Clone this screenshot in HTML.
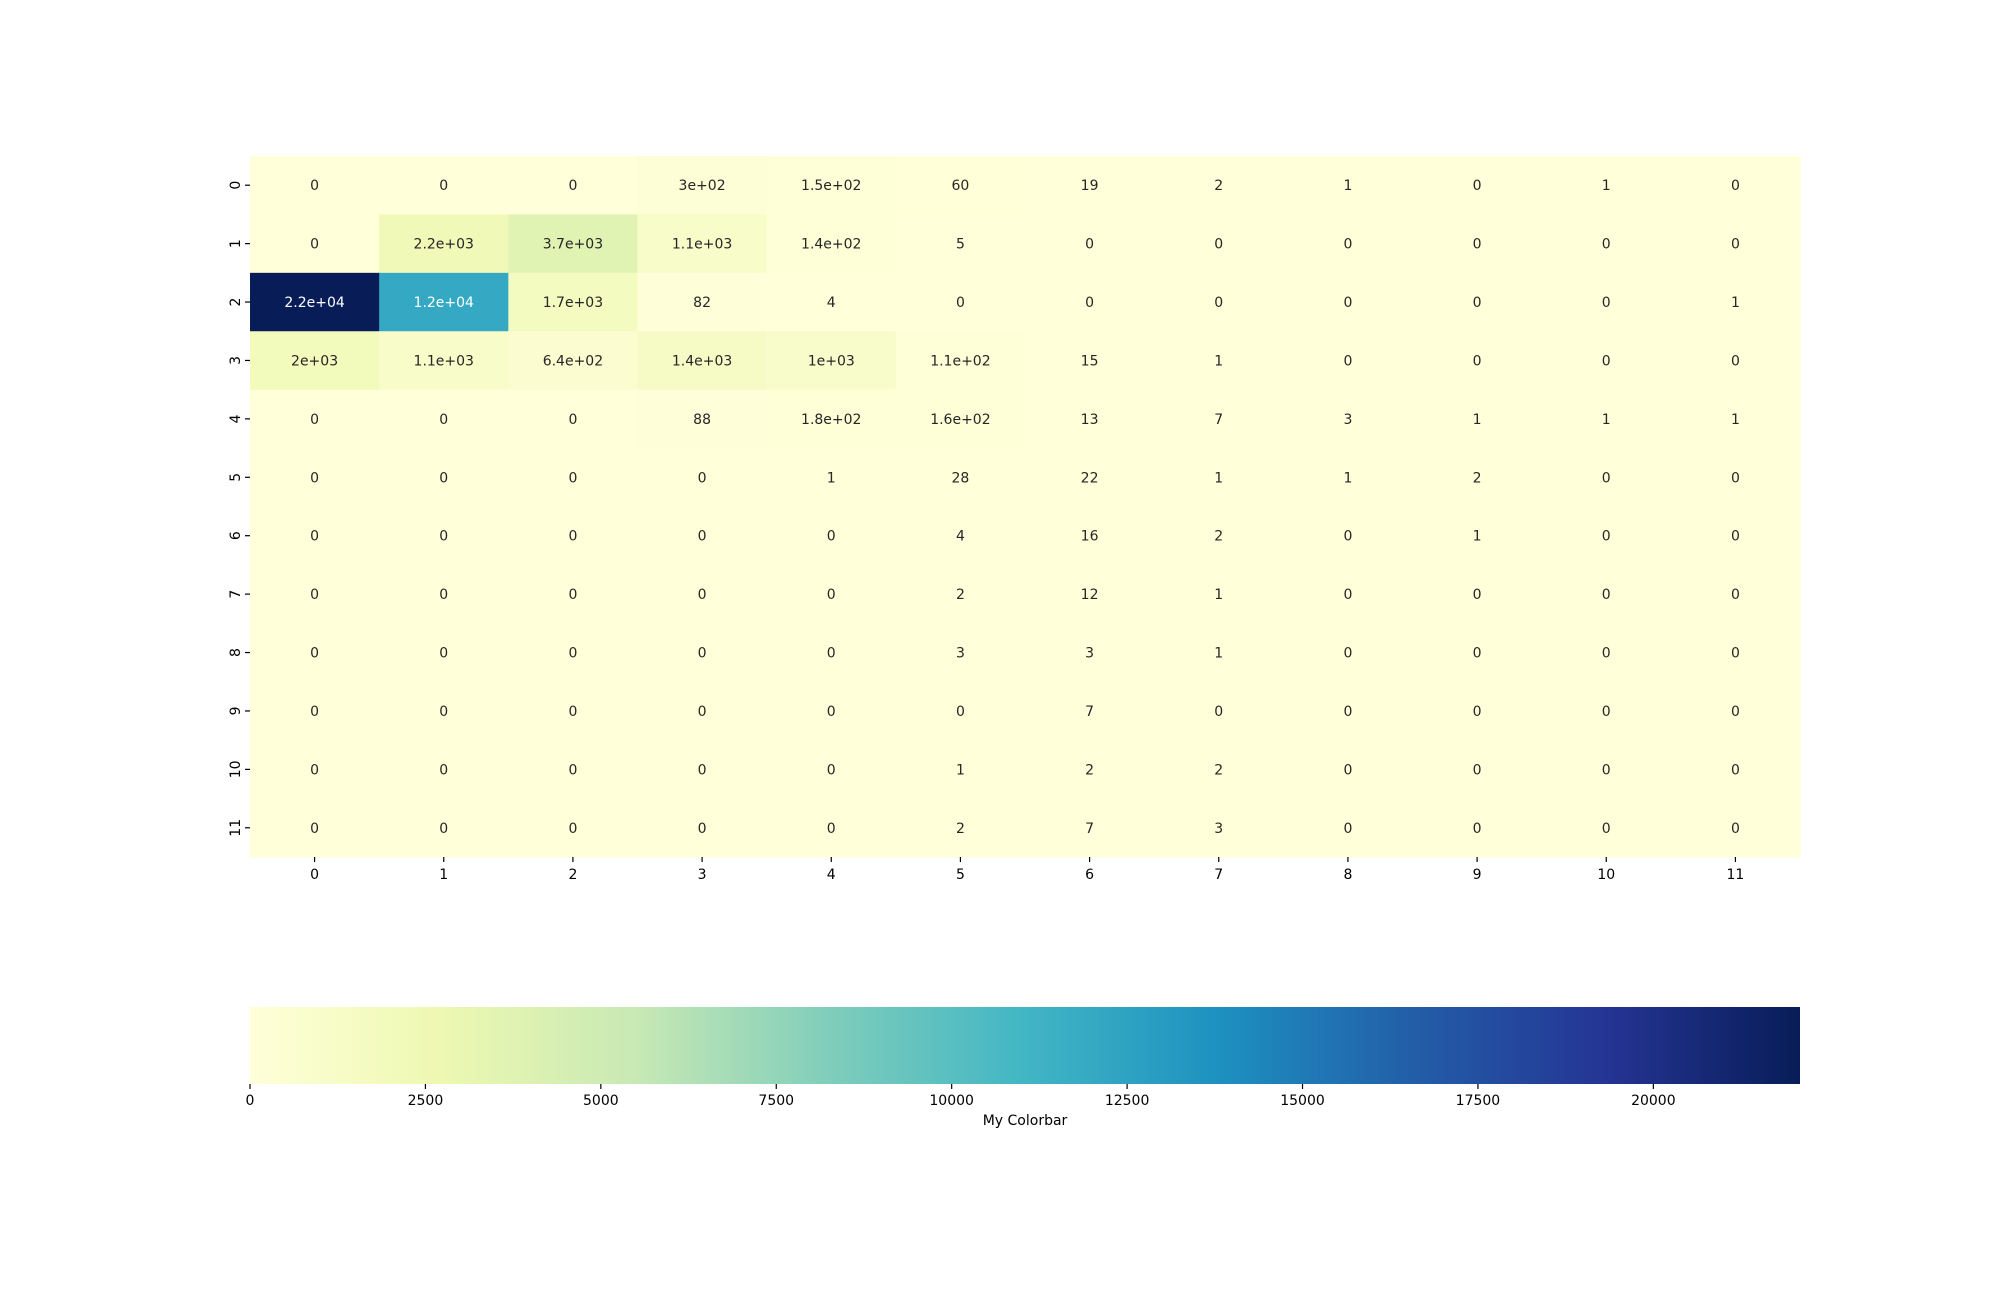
<!DOCTYPE html>
<html><head><meta charset="utf-8"><style>
html,body{margin:0;padding:0;background:#fff;}
svg{display:block;font-family:"DejaVu Sans","Liberation Sans",sans-serif;}
</style></head><body>
<svg id="chart" width="2000" height="1300" viewBox="0 0 2000 1300">
<defs><linearGradient id="cbgrad" x1="0" x2="1" y1="0" y2="0">
<stop offset="0" stop-color="#ffffd9"/><stop offset="0.125" stop-color="#edf8b1"/><stop offset="0.25" stop-color="#c7e9b4"/><stop offset="0.375" stop-color="#7fcdbb"/><stop offset="0.5" stop-color="#41b6c4"/><stop offset="0.625" stop-color="#1d91c0"/><stop offset="0.75" stop-color="#225ea8"/><stop offset="0.875" stop-color="#253494"/><stop offset="1" stop-color="#081d58"/>
</linearGradient></defs>
<g id="cells"></g>
<g id="axes"></g>
<rect x="250" y="1007" width="1550" height="77" fill="url(#cbgrad)"/>
<g id="cbticks"></g>
<text x="1025" y="1125" font-size="14" text-anchor="middle" fill="#000">My Colorbar</text>
</svg>
<script>
const rowLabels = ['0','1','2','3','4','5','6','7','8','9','10','11'];
const colLabels = ['0','1','2','3','4','5','6','7','8','9','10','11'];
const values = [
 [0,0,0,300,150,60,19,2,1,0,1,0],
 [0,2200,3700,1100,140,5,0,0,0,0,0,0],
 [22090,12000,1700,82,4,0,0,0,0,0,0,1],
 [2000,1100,640,1400,1000,110,15,1,0,0,0,0],
 [0,0,0,88,180,160,13,7,3,1,1,1],
 [0,0,0,0,1,28,22,1,1,2,0,0],
 [0,0,0,0,0,4,16,2,0,1,0,0],
 [0,0,0,0,0,2,12,1,0,0,0,0],
 [0,0,0,0,0,3,3,1,0,0,0,0],
 [0,0,0,0,0,0,7,0,0,0,0,0],
 [0,0,0,0,0,1,2,2,0,0,0,0],
 [0,0,0,0,0,2,7,3,0,0,0,0]
];
const annotations = [
 ['0','0','0','3e+02','1.5e+02','60','19','2','1','0','1','0'],
 ['0','2.2e+03','3.7e+03','1.1e+03','1.4e+02','5','0','0','0','0','0','0'],
 ['2.2e+04','1.2e+04','1.7e+03','82','4','0','0','0','0','0','0','1'],
 ['2e+03','1.1e+03','6.4e+02','1.4e+03','1e+03','1.1e+02','15','1','0','0','0','0'],
 ['0','0','0','88','1.8e+02','1.6e+02','13','7','3','1','1','1'],
 ['0','0','0','0','1','28','22','1','1','2','0','0'],
 ['0','0','0','0','0','4','16','2','0','1','0','0'],
 ['0','0','0','0','0','2','12','1','0','0','0','0'],
 ['0','0','0','0','0','3','3','1','0','0','0','0'],
 ['0','0','0','0','0','0','7','0','0','0','0','0'],
 ['0','0','0','0','0','1','2','2','0','0','0','0'],
 ['0','0','0','0','0','2','7','3','0','0','0','0']
];
const cbTicks = [0,2500,5000,7500,10000,12500,15000,17500,20000];
const vmin = 0, vmax = 22090;

const NS='http://www.w3.org/2000/svg';
const X0=250,X1=1800,Y0=156,Y1=857;
const cw=(X1-X0)/colLabels.length, ch=(Y1-Y0)/rowLabels.length;
const xs=i=>X0+i*cw, ys=j=>Y0+j*ch;
const cbx=v=>X0+(v-vmin)/(vmax-vmin)*(X1-X0);
const stops=['#ffffd9','#edf8b1','#c7e9b4','#7fcdbb','#41b6c4','#1d91c0','#225ea8','#253494','#081d58'].map(h=>[parseInt(h.slice(1,3),16),parseInt(h.slice(3,5),16),parseInt(h.slice(5,7),16)]);
function color(v){let t=Math.max(0,Math.min(1,(v-vmin)/(vmax-vmin)))*(stops.length-1);let i=Math.min(Math.floor(t),stops.length-2),f=t-i;const c=stops[i].map((a,k)=>Math.round(a+(stops[i+1][k]-a)*f));return c;}
function mk(tag,attrs,parent){const e=document.createElementNS(NS,tag);for(const k in attrs)e.setAttribute(k,attrs[k]);parent.appendChild(e);return e;}
const cells=document.getElementById('cells'),axes=document.getElementById('axes'),cbt=document.getElementById('cbticks');
values.forEach((row,j)=>row.forEach((v,i)=>{
  const c=color(v);
  const r=mk('rect',{x:xs(i),y:ys(j),width:cw+0.6,height:ch+0.6,fill:`rgb(${c[0]},${c[1]},${c[2]})`},cells);
  
  
  const lum=(0.299*c[0]+0.587*c[1]+0.114*c[2]);
  const t=mk('text',{x:xs(i)+cw/2,y:ys(j)+ch/2+5,'font-size':14,'text-anchor':'middle',fill:lum<140?'#ffffff':'#262626'},cells);
  t.textContent=annotations[j][i];
  
  
}));
colLabels.forEach((l,i)=>{
  const x=xs(i)+cw/2;
  const tk=mk('line',{x1:x,x2:x,y1:Y1,y2:Y1+5,stroke:'#000','stroke-width':1.2},axes);
  
  
  const t=mk('text',{x:x,y:Y1+22,'font-size':14,'text-anchor':'middle',fill:'#000'},axes);
  t.textContent=l;
  
  
});
rowLabels.forEach((l,j)=>{
  const y=ys(j)+ch/2;
  const tk=mk('line',{x1:X0-5,x2:X0,y1:y,y2:y,stroke:'#000','stroke-width':1.2},axes);
  
  
  const t=mk('text',{x:X0-10,y:y,'font-size':14,'text-anchor':'middle',fill:'#000',transform:`rotate(-90 ${X0-10} ${y})`},axes);
  t.textContent=l;
  
  
});
cbTicks.forEach(v=>{
  const x=cbx(v);
  const tk=mk('line',{x1:x,x2:x,y1:1084,y2:1089,stroke:'#000','stroke-width':1.2},cbt);
  
  
  const t=mk('text',{x:x,y:1105,'font-size':14,'text-anchor':'middle',fill:'#000'},cbt);
  t.textContent=String(v);
  
  
});
</script>
</body></html>
